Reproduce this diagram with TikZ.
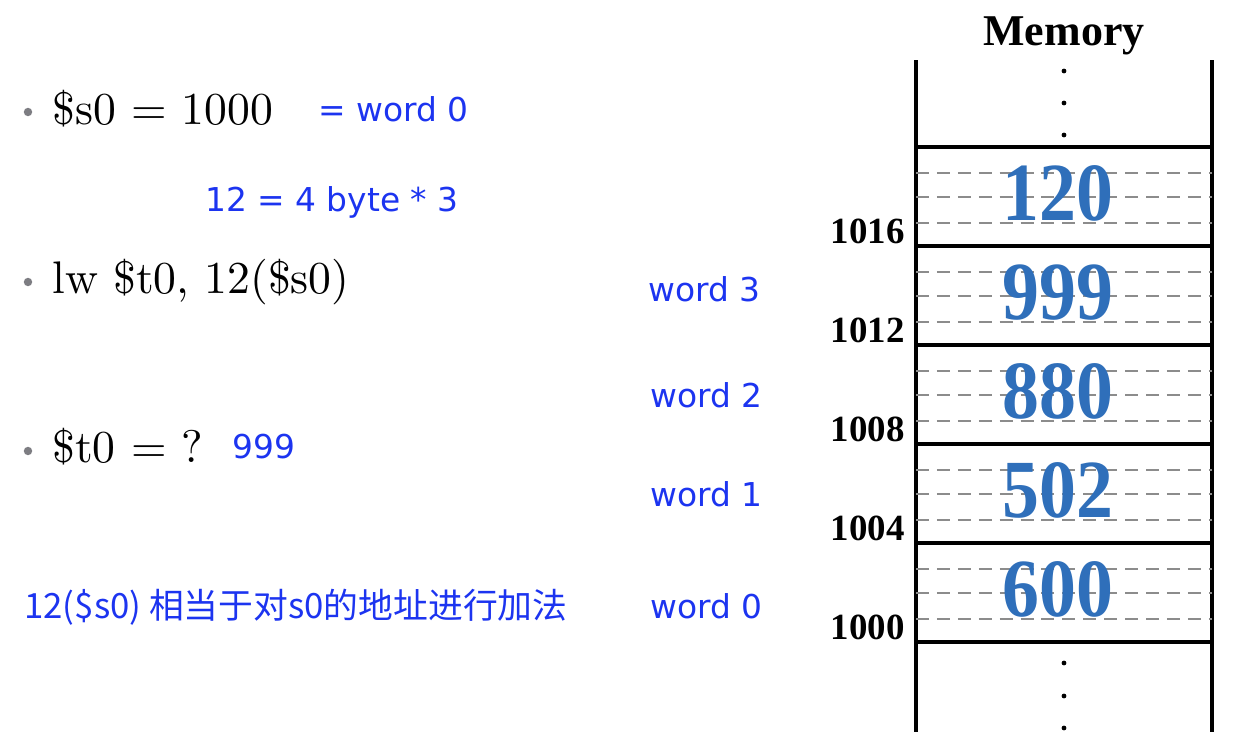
\documentclass[tikz,border=0pt]{standalone}
\usepackage{fontspec}
\newfontfamily\itemfont{lmroman10-regular}[Extension=.otf]
\newfontfamily\notefont{DejaVu Sans}
\newfontfamily\cjkfont{Noto Sans CJK SC}
\newfontfamily\memfont{Liberation Serif}
\usetikzlibrary{positioning,calc}

\definecolor{noteblue}{RGB}{28,52,240}
\definecolor{valblue}{RGB}{47,111,186}
\definecolor{dotgray}{RGB}{125,125,130}

\begin{document}
\begin{tikzpicture}[
      x=0.02cm, y=-0.02cm
    ]

    \tikzstyle{item} = [anchor=base west, inner sep=0pt, font=\itemfont\fontsize{26}{30}\selectfont]
    \tikzstyle{bullet} = [circle, fill=dotgray, inner sep=0pt, minimum size=4.8pt]
    \tikzstyle{note} = [anchor=base west, inner sep=0pt, text=noteblue, font=\notefont\fontsize{18.7}{22}\selectfont]
    \tikzstyle{cell} = [rectangle, draw=black, line width=1.8pt, outer sep=0pt, minimum width=5.92cm, minimum height=1.98cm]
    \tikzstyle{value} = [inner sep=0pt, text=valblue, font=\memfont\bfseries\fontsize{42}{46}\selectfont]
    \tikzstyle{addr} = [anchor=base east, inner sep=0pt, font=\memfont\bfseries\fontsize{21}{24}\selectfont]
    \tikzstyle{wall} = [line width=2.1pt]
    \tikzstyle{byteline} = [gray!90, line width=1.5pt, dash pattern=on 7.4pt off 4.5pt]

    \useasboundingbox (0,0) rectangle (1244,746);

    % left side: the instruction
    \node [item] (s0) at (52,125) {\$s0 = 1000};
    \node [bullet] (b1) at (28,112) {};
    \node [note] (s0word) at (318,122) {= word 0};
    \node [note] (offset) at (205,212) {12 = 4 byte * 3};

    \node [item] (lw) at (52,294) {lw \$t0, 12(\$s0)};
    \node [bullet] (b2) at (28,282) {};

    \node [item] (t0) at (52,462) {\$t0 = ?};
    \node [bullet] (b3) at (28,451) {};
    \node [note] (answer) at (232,459) {999};

    \node [note, font=\cjkfont\fontsize{19.8}{24}\selectfont] (hint) at (24,618) {12(\$s0) 相当于对s0的地址进行加法};

    % word labels
    \node [note] (word3) at (648,302) {word 3};
    \node [note] (word2) at (650,408) {word 2};
    \node [note] (word1) at (650,506) {word 1};
    \node [note] (word0) at (650,618) {word 0};

    % memory
    \node [anchor=base, inner sep=0pt, font=\memfont\bfseries\fontsize{25}{28}\selectfont] (memtitle) at (1064,46) {Memory};

    \foreach \val/\addr [count=\i from 0] in {600/1000, 502/1004, 880/1008, 999/1012, 120/1016} {
      \node [cell] (cell\i) at (1064,{592.5-99*\i}) {};
      \foreach \d in {26,50,76}
        \draw [byteline] ($(cell\i.north west)+(0,\d)$) -- ($(cell\i.north east)+(0,\d)$);
      \node [value] (val\i) at ($(cell\i.center)+(-6,-3)$) {\scalebox{1}[1.12]{\val}};
      \node [addr] (addr\i) at ($(cell\i.south west)+(-11,-2)$) {\addr};
    }

    \draw [wall] (cell4.north west) -- ++(0,-87);
    \draw [wall] (cell4.north east) -- ++(0,-87);
    \draw [wall] (cell0.south west) -- ++(0,90);
    \draw [wall] (cell0.south east) -- ++(0,90);

    \foreach \y in {71,103,135,663,696,728}
      \fill (1064,\y) circle (2.4);

\end{tikzpicture}
\end{document}
